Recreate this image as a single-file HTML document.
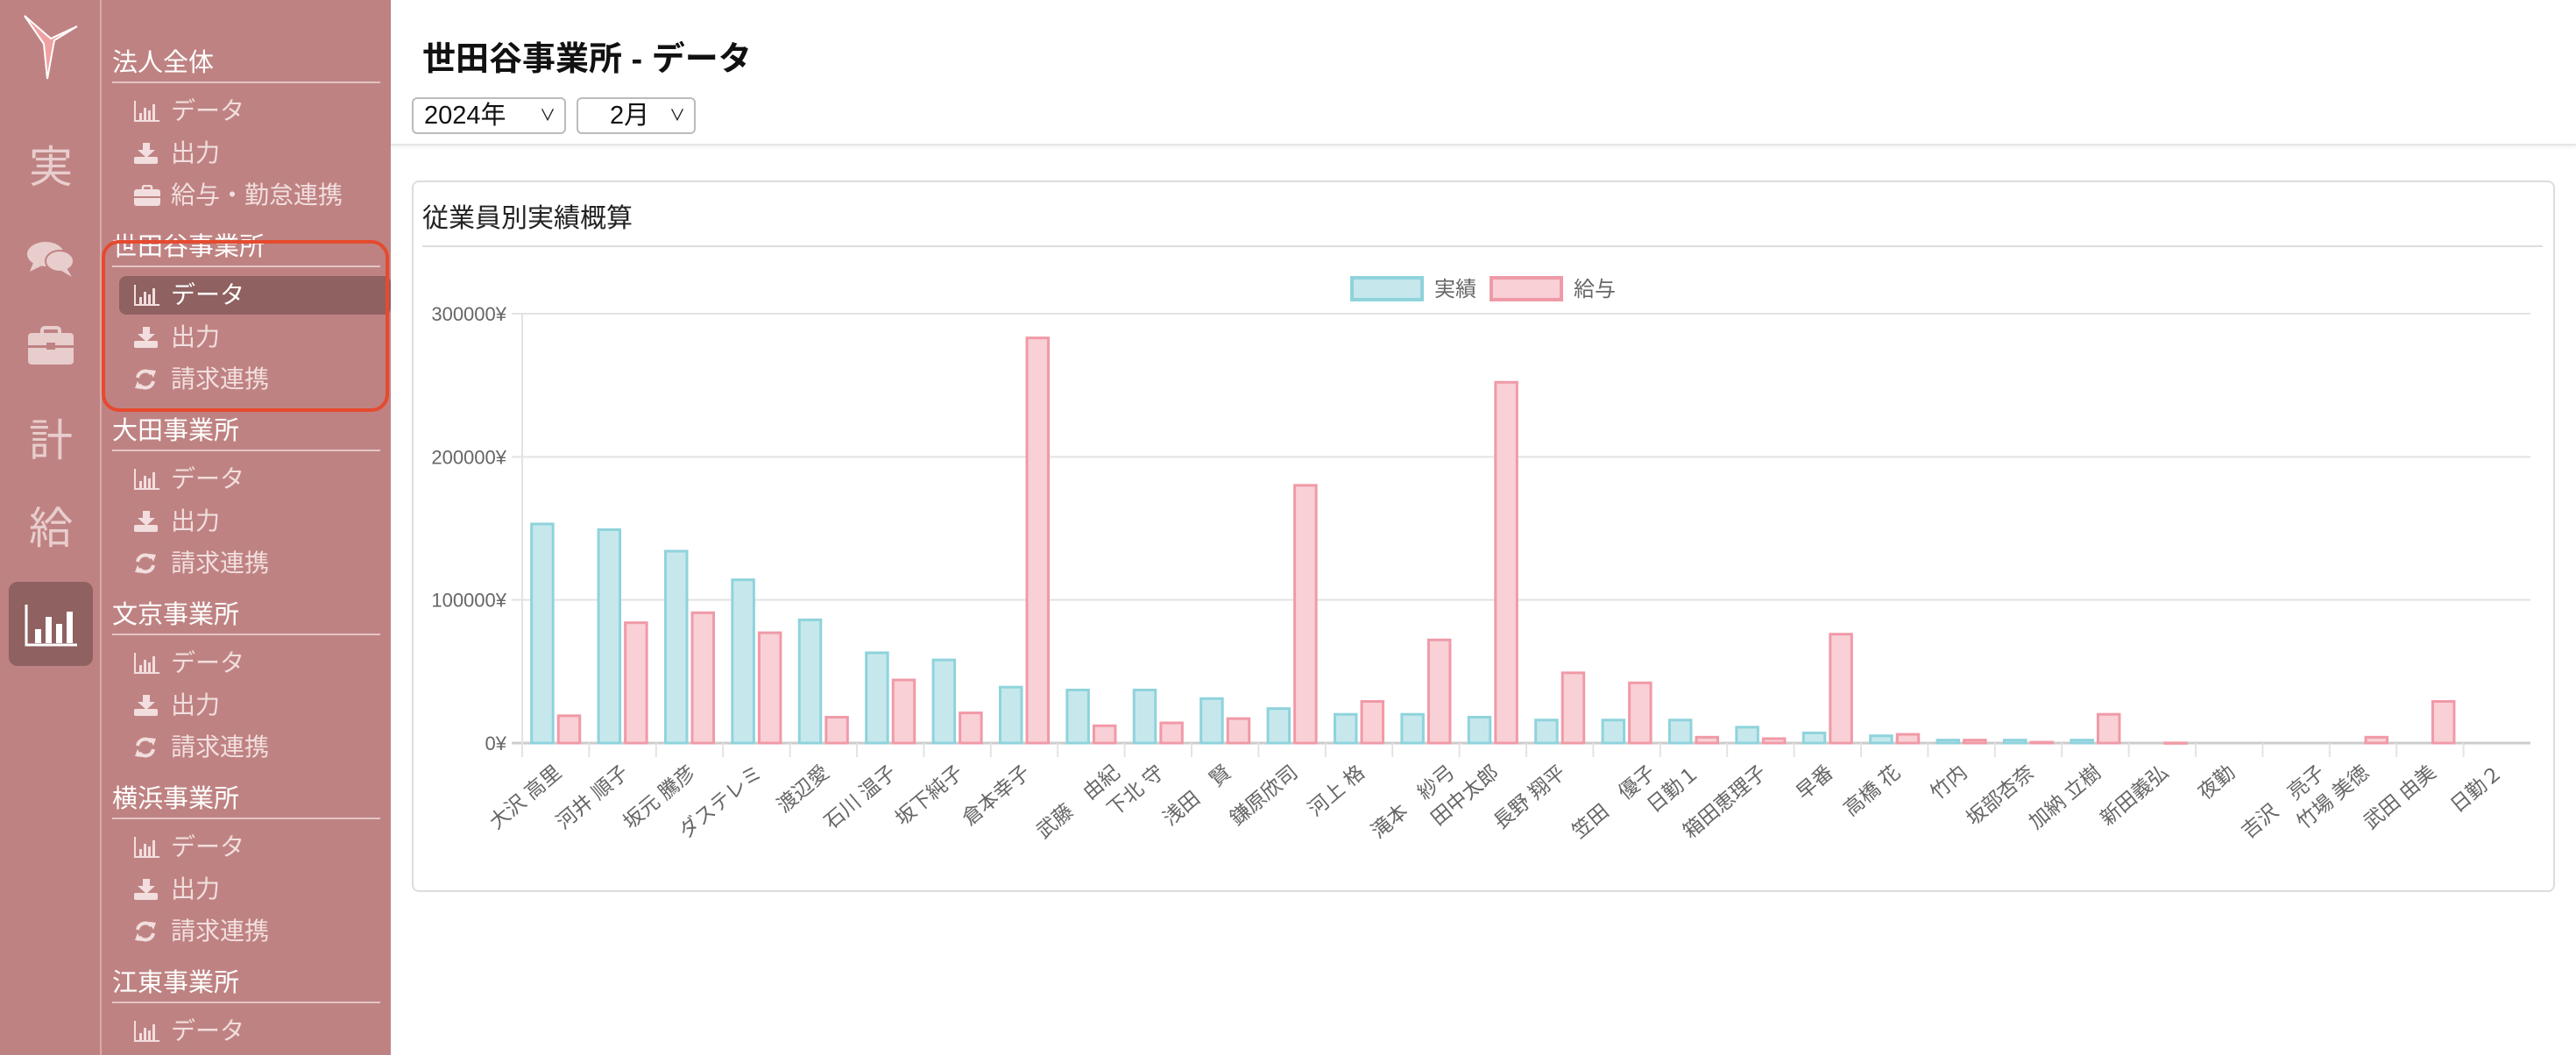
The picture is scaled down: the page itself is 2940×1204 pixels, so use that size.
<!DOCTYPE html>
<html><head><meta charset="utf-8">
<style>
*{margin:0;padding:0;box-sizing:border-box}
html,body{width:2940px;height:1204px;overflow:hidden}
body{background:#fff;font-family:"Liberation Sans","Noto Sans CJK JP",sans-serif;position:relative}
.abs{position:absolute}
#rail{left:0;top:0;width:116px;height:1204px;background:#bf8282;border-right:2px solid #d8aaaa}
#menu{left:116px;top:0;width:330px;height:1204px;background:#bf8282;overflow:hidden}
.rl{position:absolute;width:116px;text-align:center;color:#e8cdcd;font-size:50px;line-height:1}
.hd{position:absolute;left:12px;width:306px;color:#fff;font-size:29px;line-height:1;border-bottom:2px solid #e2c4c4;padding-bottom:6px}
.it{position:absolute;left:37px;color:#f2dede;font-size:28px;line-height:1;display:flex;align-items:center}
.ic{width:34px;height:28px;margin-right:8px;display:flex;align-items:center}
.act{position:absolute;left:20px;width:310px;height:44px;background:#8f6161;border-radius:8px}
.sel{position:absolute;top:111px;height:42px;border:2px solid #bbb;border-radius:6px;font-size:29px;line-height:38px;color:#111}
</style></head><body>
<div id="rail" class="abs">
  <svg class="abs" style="left:26px;top:14px" width="66" height="80" viewBox="0 0 66 80"><polygon points="2,4 32,30 62,16 36,32 28,76 24,36" fill="#f0a0a0" stroke="#fff" stroke-width="2"/></svg>
  <div class="rl" style="top:166px">実</div>
  <svg class="abs" style="left:30px;top:274px" width="56" height="46" viewBox="0 0 56 46"><ellipse cx="22" cy="16" rx="21" ry="14" fill="#e8cdcd"/><path d="M8 26 L4 36 L18 29Z" fill="#e8cdcd"/><ellipse cx="38" cy="24" rx="16" ry="12" fill="#e8cdcd" stroke="#bf8282" stroke-width="2"/><path d="M46 32 L52 42 L40 35Z" fill="#e8cdcd"/></svg>
  <svg class="abs" style="left:32px;top:372px" width="52" height="44" viewBox="0 0 52 44"><rect x="16" y="2" width="20" height="10" rx="3" fill="none" stroke="#e8cdcd" stroke-width="4"/><rect x="0" y="8" width="52" height="36" rx="4" fill="#e8cdcd"/><rect x="0" y="22" width="52" height="3" fill="#bf8282"/><rect x="21" y="19" width="10" height="8" fill="#bf8282"/></svg>
  <div class="rl" style="top:478px">計</div>
  <div class="rl" style="top:578px">給</div>
  <div class="abs" style="left:10px;top:664px;width:96px;height:96px;background:#8f6161;border-radius:10px">
    <svg class="abs" style="left:18px;top:26px" width="62" height="48" viewBox="0 0 62 48"><path d="M2 0 V46 H60" fill="none" stroke="#fff" stroke-width="3"/><rect x="12" y="28" width="7" height="16" fill="#fff"/><rect x="24" y="14" width="7" height="30" fill="#fff"/><rect x="36" y="22" width="7" height="22" fill="#fff"/><rect x="48" y="8" width="7" height="36" fill="#fff"/></svg>
  </div>
</div>
<div id="menu" class="abs"></div>
<div class="abs" style="left:116px;top:274px;width:328px;height:196px;border:4px solid #e54a2e;border-radius:20px"></div>
<div class="abs" style="left:446px;top:0;width:2494px;height:166px;border-bottom:2px solid #e6e6e6;box-shadow:0 2px 3px rgba(0,0,0,.06)">
  <div class="abs" style="left:36px;top:36px;font-size:38px;font-weight:bold;color:#111">世田谷事業所 - データ</div>
  <div class="sel" style="left:24px;width:176px;padding-left:12px">2024年<span style="font-size:18px;position:absolute;right:10px;top:0">&#8744;</span></div>
  <div class="sel" style="left:212px;width:136px;padding-left:36px">2月<span style="font-size:18px;position:absolute;right:10px;top:0">&#8744;</span></div>
</div>
<div class="abs" style="left:470px;top:206px;width:2446px;height:812px;border:2px solid #ddd;border-radius:8px">
  <div class="abs" style="left:10px;top:16px;font-size:30px;color:#222">従業員別実績概算</div>
  <div class="abs" style="left:10px;top:72px;width:2420px;height:2px;background:#ddd"></div>
</div>
<svg id="chart" class="abs" style="left:0;top:0" width="2940" height="1204"></svg>
<script>
const categories=["大沢 高里","河井 順子","坂元 騰彦","ダステレミ","渡辺愛","石川 温子","坂下純子","倉本幸子","武藤　由紀","下北 守","浅田　賢","鎌原欣司","河上 格","滝本　紗弓","田中太郎","長野 翔平","笠田　優子","日勤１","箱田恵理子","早番","高橋 花","竹内","坂部杏奈","加納 立樹","新田義弘","夜勤","吉沢　亮子","竹場 美徳","武田 由美","日勤２"];
const jisseki=[154000,150000,135000,115000,87000,64000,59000,40000,38000,38000,32000,25000,21000,21000,19000,17000,17000,17000,12000,8000,6000,3000,3000,3000,0,0,0,0,0,0];
const kyuyo=[20000,85000,92000,78000,19000,45000,22000,284000,13000,15000,18000,181000,30000,73000,253000,50000,43000,5000,4000,77000,7000,3000,1500,21000,1000,0,0,5000,30000,0];
const yTicks=[0,100000,200000,300000];
const seriesNames=["実績","給与"];

const NS="http://www.w3.org/2000/svg";
const svg=document.getElementById('chart');
const L=596,R=2888,T=358,B=848,YMAX=300000;
const bw=(R-L)/categories.length;
const y=v=>B-(v/YMAX)*(B-T);
const x=i=>L+bw*i;
function mk(tag,attrs,parent){const e=document.createElementNS(NS,tag);for(const k in attrs)e.setAttribute(k,attrs[k]);(parent||svg).appendChild(e);return e;}
yTicks.forEach(t=>{
  const g=mk('line',{x1:L-12,x2:R,y1:y(t),y2:y(t),stroke:t===0?'#ccc':'#e3e3e3','stroke-width':t===0?3:2});
  
  
  const tx=mk('text',{x:L-18,y:y(t)+8,'text-anchor':'end','font-size':22,fill:'#666'});
  tx.textContent=t+'¥';
  
  
});
const ax=mk('line',{x1:L,x2:L,y1:T,y2:B+14,stroke:'#e3e3e3','stroke-width':2});


const barW=bw*0.8/2*0.9;
categories.forEach((c,i)=>{
  const cx=x(i)+bw/2;
  const tk=mk('line',{x1:x(i),x2:x(i),y1:B,y2:B+16,stroke:'#e3e3e3','stroke-width':2});
  
  
  [[jisseki[i],'#c6e8ec','#8fd3dc',-1],[kyuyo[i],'#f9d0d6','#f09aa7',1]].forEach(([v,f,s,d],k)=>{
    if(v<=0)return;
    const h=B-y(v);
    const bx=d<0?cx-bw*0.4+(bw*0.4-barW)/2:cx+(bw*0.4-barW)/2;
    const r=mk('rect',{x:bx+1.5,y:y(v)+1.5,width:barW-3,height:Math.max(h-1.5,0.5),fill:f,stroke:s,'stroke-width':3});
    
    
  });
  const wide=c.indexOf('　')>=0&&c.length>4;
  const t=mk('text',{transform:`translate(${cx+(wide?34:8)},${B+36}) rotate(-40)`,'text-anchor':'end','font-size':23,fill:'#666'});
  t.textContent=c;
  
  
});
[[1541,'#c6e8ec','#8fd3dc',seriesNames[0]],[1700,'#f9d0d6','#f09aa7',seriesNames[1]]].forEach(([lx,f,s,n])=>{
  const r=mk('rect',{x:lx+2,y:317,width:80,height:25,fill:f,stroke:s,'stroke-width':4});
  
  
  const t=mk('text',{x:lx+96,y:338,'font-size':24,fill:'#666'});
  t.textContent=n;
  
  
});
const menu=document.getElementById('menu');
const secs=["法人全体","世田谷事業所","大田事業所","文京事業所","横浜事業所","江東事業所"];
const C='#f2dede';
const chartIcon='<svg width="30" height="24" viewBox="0 0 30 24"><path d="M1 0V23H29" fill="none" stroke="'+C+'" stroke-width="2"/><rect x="6" y="14" width="3" height="8" fill="'+C+'"/><rect x="11" y="8" width="3" height="14" fill="'+C+'"/><rect x="16" y="11" width="3" height="11" fill="'+C+'"/><rect x="21" y="4" width="3" height="18" fill="'+C+'"/></svg>';
const dlIcon='<svg width="28" height="24" viewBox="0 0 28 24"><rect x="10" y="0" width="8" height="9" fill="'+C+'"/><polygon points="4,8 24,8 14,17" fill="'+C+'"/><rect x="0" y="16" width="27" height="8" rx="2" fill="'+C+'"/></svg>';
const syncIcon='<svg width="26" height="26" viewBox="0 0 26 26"><path d="M4 11 A9 9 0 0 1 20 7" fill="none" stroke="'+C+'" stroke-width="4"/><polygon points="17,2 25,3 22,11" fill="'+C+'"/><path d="M22 15 A9 9 0 0 1 6 19" fill="none" stroke="'+C+'" stroke-width="4"/><polygon points="9,24 1,23 4,15" fill="'+C+'"/></svg>';
const brIcon='<svg width="30" height="24" viewBox="0 0 30 24"><rect x="10" y="1" width="10" height="6" rx="2" fill="none" stroke="'+C+'" stroke-width="2.5"/><rect x="0" y="5" width="30" height="19" rx="3" fill="'+C+'"/><rect x="0" y="13" width="30" height="2" fill="#bf8282"/></svg>';
secs.forEach((s,i)=>{
  const top=58+i*210;
  const h=document.createElement('div');h.className='hd';h.style.top=top+'px';h.textContent=s;
  
  
  menu.appendChild(h);
  const items=i===0?[[chartIcon,'データ'],[dlIcon,'出力'],[brIcon,'給与・勤怠連携']]:[[chartIcon,'データ'],[dlIcon,'出力'],[syncIcon,'請求連携']];
  items.forEach((it,j)=>{
    const iy=top+55+j*48;
    if(iy+30>1204)return;
    if(i===1&&j===0){const a=document.createElement('div');a.className='act';a.style.top=(iy-8)+'px';
      
      
      menu.appendChild(a);}
    const d=document.createElement('div');d.className='it';d.style.top=iy+'px';
    d.innerHTML='<span class="ic">'+it[0]+'</span>'+it[1];
    if(i===1&&j===0)d.style.color='#fff';
    
    
    menu.appendChild(d);
  });
});
</script>
</body></html>
